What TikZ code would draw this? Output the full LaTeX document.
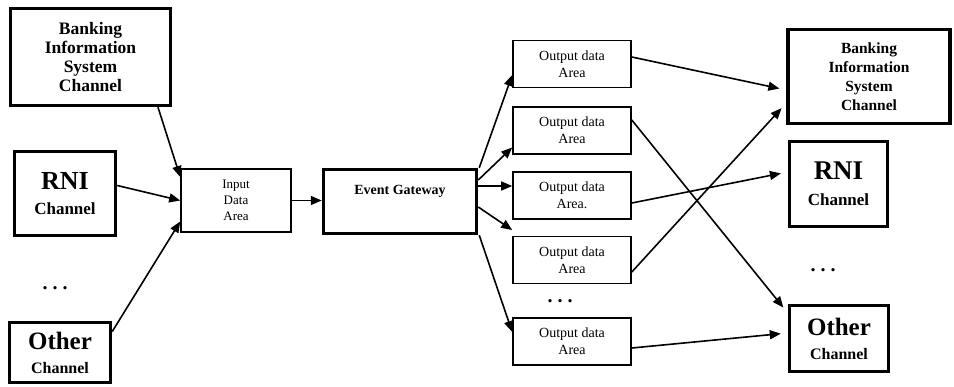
\documentclass[tikz,border=0pt]{standalone}
\usepackage{fontspec}
\setmainfont{Liberation Serif}
\usetikzlibrary{arrows.meta,calc}
\begin{document}
\begin{tikzpicture}[x=1pt,y=-1pt,
  thickbox/.style={draw,line width=3.5pt,inner sep=0pt,align=center},
  thinbox/.style={draw,line width=1.6pt,inner sep=0pt,align=center},
  outbox/.style={thinbox,minimum width=118pt,minimum height=47pt,font=\fontsize{14}{17}\selectfont},
  dotsnode/.style={inner sep=0pt,font=\bfseries\fontsize{20}{20}\selectfont},
  conn/.style={line width=1.6pt,-{Triangle[length=11pt,width=9pt]}},
  connR/.style={conn,shorten >=7pt},
]
\useasboundingbox (0,0) rectangle (954,386);

% left side channels
\node[thickbox,minimum width=160pt,minimum height=97pt,font=\bfseries\fontsize{17.5}{19}\selectfont] (bisL) at (90.5,57) {Banking\\Information\\System\\Channel};
\node[thickbox,minimum width=101pt,minimum height=84pt,font=\bfseries\fontsize{17}{25}\selectfont] (rniL) at (65,193.5)
  {{\fontsize{26}{26}\selectfont RNI}\\Channel};
\node[dotsnode] (dotsL) at (55,288) {.\ .\ .};
\node[thickbox,minimum width=101pt,minimum height=60pt,font=\bfseries\fontsize{16}{24}\selectfont] (othL) at (60,352.5)
  {{\fontsize{25}{25}\selectfont Other}\\Channel};

% input and gateway
\node[thinbox,minimum width=110pt,minimum height=63pt,font=\fontsize{13}{16}\selectfont] (inp) at (236,200.5) {Input\\Data\\Area};
\node[thickbox,minimum width=153pt,minimum height=64pt,font=\bfseries\fontsize{14}{16}\selectfont,text depth=24pt] (eg) at (400,201.5) {Event Gateway};

% output data areas
\node[outbox] (o1) at (572,64) {Output data\\Area};
\node[outbox] (o2) at (572,130.5) {Output data\\Area};
\node[outbox] (o3) at (572,195.5) {Output data\\Area.};
\node[outbox] (o4) at (572,260) {Output data\\Area};
\node[dotsnode] (dotsM) at (560,301) {.\ .\ .};
\node[outbox] (o5) at (572,341.5) {Output data\\Area};

% right side channels
\node[thickbox,minimum width=162pt,minimum height=94pt,font=\bfseries\fontsize{15.5}{19}\selectfont] (bisR) at (869,76.5) {Banking\\Information\\System\\Channel};
\node[thickbox,minimum width=98pt,minimum height=85pt,font=\bfseries\fontsize{17}{26}\selectfont] (rniR) at (838.5,184)
  {{\fontsize{27}{27}\selectfont RNI}\\Channel};
\node[dotsnode] (dotsR) at (823,270) {.\ .\ .};
\node[thickbox,minimum width=99pt,minimum height=66pt,font=\bfseries\fontsize{16}{24}\selectfont] (othR) at (839,338.5)
  {{\fontsize{25}{25}\selectfont Other}\\Channel};

% connectors into input
\draw[conn] ([xshift=67.5pt]bisL.south) -- ([yshift=23.5pt]inp.west);
\draw[conn] ([yshift=8pt]rniL.east) -- (inp.west);
\draw[conn] ([yshift=21pt]othL.east) -- ([yshift=-21pt]inp.west);
\draw[conn] (inp.east) -- (inp.east -| eg.west);

% gateway to outputs
\draw[conn] ([xshift=1pt]eg.north east) -- ([yshift=-11pt]o1.west);
\draw[conn] ([yshift=21.5pt]eg.east) -- ([yshift=-17pt]o2.west);
\draw[conn] ([yshift=15.5pt]eg.east) -- ([yshift=15.5pt]eg.east -| o3.west);
\draw[conn] ([yshift=-5.5pt]eg.east) -- ([yshift=30pt]o4.west);
\draw[conn] ([xshift=1pt]eg.south east) -- ([yshift=9.5pt]o5.west);

% outputs to right channels
\draw[connR] ([yshift=7pt]o1.east) -- ([yshift=-13.5pt]bisR.west);
\draw[connR] ([yshift=10.5pt]o2.east) -- ([yshift=25.5pt]othR.west);
\draw[connR] ([yshift=-7.5pt]o3.east) -- ([yshift=12pt]rniR.west);
\draw[connR] ([yshift=-12pt]o4.east) -- ([yshift=-26.5pt]bisR.west);
\draw[connR] ([yshift=-6.5pt]o5.east) -- ([yshift=5.5pt]othR.west);
\end{tikzpicture}
\end{document}
